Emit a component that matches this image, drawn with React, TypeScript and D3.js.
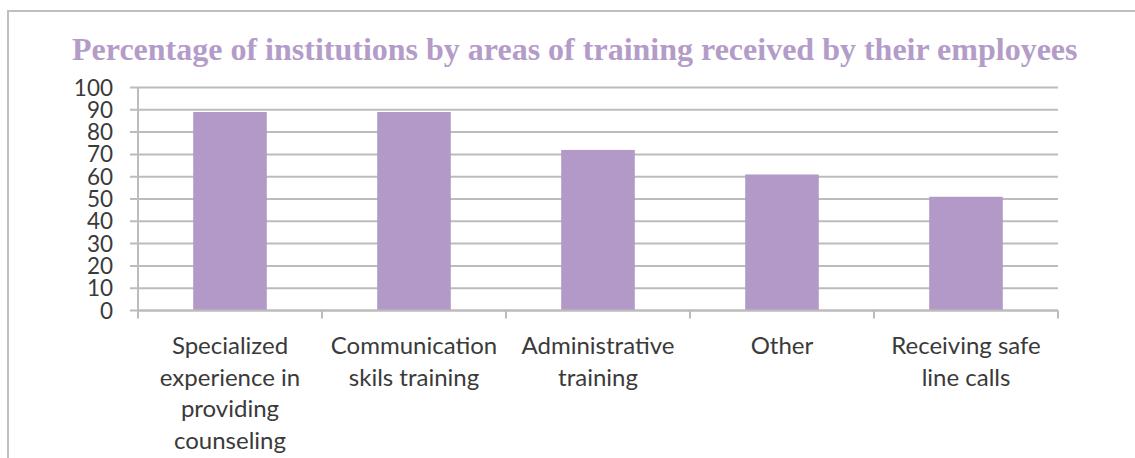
import React from "react";
import * as d3 from "d3";

const title = "Percentage of institutions by areas of training received by their employees";
const categories = [
  "Specialized\nexperience in\nproviding\ncounseling",
  "Communication\nskils training",
  "Administrative\ntraining",
  "Other",
  "Receiving safe\nline calls",
];
const values = [89, 89, 72, 61, 51];
const yTicks = [0, 10, 20, 30, 40, 50, 60, 70, 80, 90, 100];

const W = 1135;
const H = 458;
const left = 138;
const right = 1058;
const top = 87.5;
const bottom = 310.5;
const gridColor = "#bcbcbc";
const barColor = "#b399c8";
const textColor = "#3a3a3a";

export default function App() {
  const x = d3.scaleBand<string>().domain(categories).range([left, right]).paddingInner(0.6).paddingOuter(0.3);
  const xOuter = d3.scaleBand<string>().domain(categories).range([left, right]);
  const y = d3.scaleLinear().domain([0, 100]).range([bottom, top]);

  return (
    <svg width={W} height={H} style={{ position: "absolute", left: 0, top: 0, background: "#fff" }}>
      <rect x={8} y={11} width={W + 20} height={H + 20} fill="#fff" stroke="#bfbfbf" strokeWidth={2} />
      <text x={72} y={60} fontFamily="'Liberation Serif', 'Times New Roman', serif" fontWeight="bold" fontSize={32} fill="#b49cc9">
        {title}
      </text>
      {yTicks.map((t) => (
        <g key={t}>
          <line x1={130} x2={right} y1={y(t)} y2={y(t)} stroke={gridColor} strokeWidth={2} />
          <text x={113} y={y(t) + 8} textAnchor="end" fontFamily="Lato, 'Open Sans', sans-serif" fontSize={22.5} fill={textColor}>
            {t}
          </text>
        </g>
      ))}
      <line x1={left} x2={left} y1={top} y2={bottom + 8} stroke={gridColor} strokeWidth={2} />
      {categories.map((c) => (
        <line key={"t" + c} x1={(xOuter(c) as number) + xOuter.bandwidth()} x2={(xOuter(c) as number) + xOuter.bandwidth()} y1={bottom} y2={bottom + 8} stroke={gridColor} strokeWidth={2} />
      ))}
      {categories.map((c, i) => (
        <rect key={c} x={x(c)} y={y(values[i])} width={x.bandwidth()} height={y(0) - y(values[i])} fill={barColor} />
      ))}
      <line x1={left} x2={right} y1={bottom} y2={bottom} stroke={gridColor} strokeWidth={2} />
      {categories.map((c) => {
        const cx = (xOuter(c) as number) + xOuter.bandwidth() / 2;
        return (
          <text key={"l" + c} textAnchor="middle" fontFamily="Lato, 'Open Sans', sans-serif" fontSize={24} fill={textColor}>
            {c.split("\n").map((line, j) => (
              <tspan key={j} x={cx} y={354 + j * 31.5}>
                {line}
              </tspan>
            ))}
          </text>
        );
      })}
    </svg>
  );
}
